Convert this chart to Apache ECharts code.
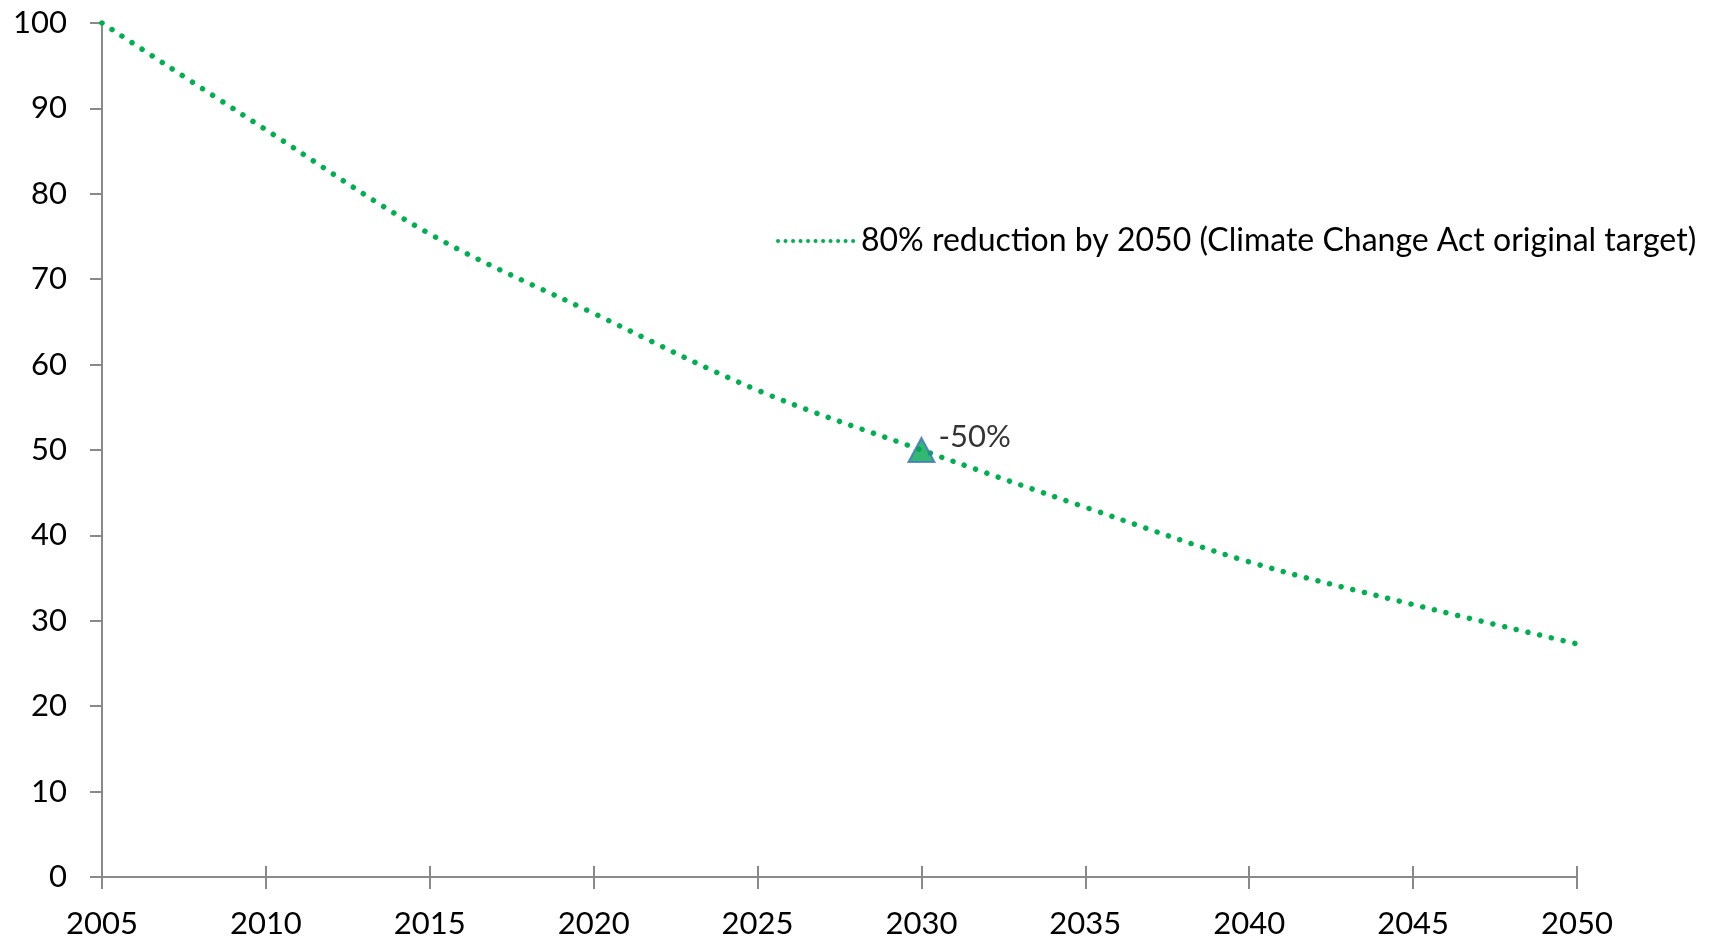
<!DOCTYPE html>
<html>
<head>
<meta charset="utf-8">
<script src="https://cdn.jsdelivr.net/npm/echarts@6/dist/echarts.min.js"></script>
<style>
html,body{margin:0;padding:0;background:#fff;}
#c{width:1717px;height:941px;}
</style>
</head>
<body>
<div id="c"></div>
<script>
const years = [2005, 2010, 2015, 2020, 2025, 2030, 2035, 2040, 2045, 2050];
const reduction80 = [100, 87.5, 75.3, 66.0, 57.0, 50.0, 43.3, 36.9, 31.9, 27.3];
const markerYears = [2030];
const markerValues = [50];
const markerLabels = ['-50%'];
const seriesName = '80% reduction by 2050 (Climate Change Act original target)';
const yTicks = [0, 100, 10];
const xTicks = [2005, 2050, 5];

const FONT = 'Lato, "Open Sans", sans-serif';
const chart = echarts.init(document.getElementById('c'));
const gridTop = 23, gridBottom = 64;
const gridH = 941 - gridTop - gridBottom;
const axisGray = '#898989';

chart.setOption({
  animation: false,
  grid: { left: 102, right: 140, top: gridTop, bottom: gridBottom, containLabel: false },
  legend: {
    show: true,
    data: [seriesName],
    left: 771, top: 220,
    orient: 'horizontal',
    itemWidth: 78, itemHeight: 14, itemGap: 3,
    itemStyle: { color: 'rgba(0,0,0,0)', borderWidth: 0 },
    lineStyle: { color: '#00B050', width: 4, type: [0.01, 7.5], cap: 'round' },
    textStyle: { fontFamily: FONT, fontSize: 32, color: '#000' }
  },
  xAxis: [{
    type: 'value', min: xTicks[0], max: xTicks[1], interval: xTicks[2],
    position: 'bottom',
    axisLine: { lineStyle: { color: axisGray, width: 2 } },
    axisTick: { show: true, length: 12, lineStyle: { color: axisGray, width: 2 } },
    axisLabel: { color: '#000', fontFamily: FONT, fontSize: 31, margin: 31, formatter: v => String(v) },
    splitLine: { show: false }
  }, {
    type: 'value', min: xTicks[0], max: xTicks[1], interval: xTicks[2],
    position: 'top', offset: -gridH,
    axisLine: { show: false },
    axisTick: { show: true, length: 11, lineStyle: { color: axisGray, width: 2 } },
    axisLabel: { show: false },
    splitLine: { show: false }
  }],
  yAxis: {
    type: 'value', min: yTicks[0], max: yTicks[1], interval: yTicks[2],
    axisLine: { show: true, lineStyle: { color: axisGray, width: 2 } },
    axisTick: { show: true, length: 12, lineStyle: { color: axisGray, width: 2 } },
    axisLabel: { color: '#000', fontFamily: FONT, fontSize: 31, margin: 35 },
    splitLine: { show: false }
  },
  series: [{
    name: seriesName,
    type: 'line',
    data: years.map((y, i) => [y, reduction80[i]]),
    smooth: 0.35,
    symbol: 'none',
    lineStyle: { color: '#00B050', width: 5.5, type: [0.01, 12], cap: 'round' },
    itemStyle: { color: '#00B050' }
  }, {
    name: 'marker',
    type: 'scatter',
    data: markerYears.map((y, i) => [y, markerValues[i]]),
    symbol: 'triangle',
    symbolSize: [26, 24],
    itemStyle: { color: '#00A64F', borderColor: '#4472C4', borderWidth: 2 },
    label: {
      show: true, position: 'right', distance: 3, offset: [0, -13],
      formatter: p => markerLabels[p.dataIndex],
      color: '#000', fontFamily: FONT, fontSize: 31
    },
    z: 5
  }]
});
</script>
</body>
</html>
